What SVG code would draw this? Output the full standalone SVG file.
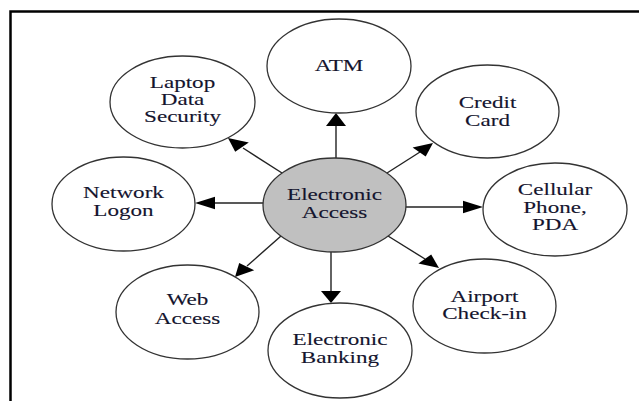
<svg xmlns="http://www.w3.org/2000/svg" width="639" height="401" viewBox="0 0 639 401">
<style>
.node ellipse{fill:#ffffff;stroke:#333333;stroke-width:1.3}
#n-center ellipse{fill:#c0c0c0}
.node text{font-family:"Liberation Serif","Times New Roman",Times,serif;font-size:16.5px;fill:#14142e;stroke:#14142e;stroke-width:0.12;text-anchor:middle}
.conn line{stroke:#222222;stroke-width:1.4}
.conn polygon{fill:#000000}
.frame{stroke:#000000;stroke-width:2.5;fill:none}
</style>
<rect width="639" height="401" fill="#ffffff"/>
<polyline class="frame" points="10.5,401 10.5,11.5 639,11.5"/>

<g id="connectors" class="conn">
  <line x1="336" y1="158" x2="336" y2="124"/>
  <polygon points="336,113 346,126 326,126"/>
  <line x1="331" y1="252" x2="331" y2="293"/>
  <polygon points="331,303 321,291 341,291"/>
  <line x1="263" y1="203" x2="213" y2="203"/>
  <polygon points="195,203 215,196.8 215,209.2"/>
  <line x1="406" y1="207" x2="465" y2="207"/>
  <polygon points="483,207 463,200.8 463,213.2"/>
  <line x1="282" y1="173" x2="243" y2="148"/>
  <polygon points="228,138 248.8,142.4 235.2,151.7"/>
  <line x1="387" y1="173" x2="420" y2="152"/>
  <polygon points="433,143 425.7,156.6 412.6,147.6"/>
  <line x1="388" y1="236" x2="425" y2="259"/>
  <polygon points="439,268 418.4,263.6 431.2,254.5"/>
  <line x1="281" y1="236" x2="247" y2="266"/>
  <polygon points="235,277 254.2,270.3 239.2,262.9"/>
</g>

<g id="n-center" class="node">
  <ellipse cx="334.5" cy="205" rx="71.5" ry="47"/>
  <text transform="translate(334.5,0) scale(1.4,1)"><tspan x="0" y="200.5">Electronic</tspan><tspan x="0" y="218.5">Access</tspan></text>
</g>
<g id="n-atm" class="node">
  <ellipse cx="339" cy="66" rx="72" ry="47"/>
  <text transform="translate(339,0) scale(1.4,1)"><tspan x="0" y="71.5">ATM</tspan></text>
</g>
<g id="n-laptop" class="node">
  <ellipse cx="182.5" cy="102" rx="72.5" ry="46"/>
  <text transform="translate(182.5,0) scale(1.4,1)"><tspan x="0" y="88">Laptop</tspan><tspan x="0" y="105">Data</tspan><tspan x="0" y="122">Security</tspan></text>
</g>
<g id="n-credit" class="node">
  <ellipse cx="487.5" cy="111.5" rx="71.5" ry="46.5"/>
  <text transform="translate(487.5,0) scale(1.4,1)"><tspan x="0" y="108.5">Credit</tspan><tspan x="0" y="126.5">Card</tspan></text>
</g>
<g id="n-network" class="node">
  <ellipse cx="123.5" cy="204" rx="71.5" ry="47"/>
  <text transform="translate(123.5,0) scale(1.4,1)"><tspan x="0" y="198.5">Network</tspan><tspan x="0" y="216.5">Logon</tspan></text>
</g>
<g id="n-cellular" class="node">
  <ellipse cx="555" cy="209.5" rx="72" ry="46.5"/>
  <text transform="translate(555,0) scale(1.4,1)"><tspan x="0" y="195.5">Cellular</tspan><tspan x="0" y="213">Phone,</tspan><tspan x="0" y="230.5">PDA</tspan></text>
</g>
<g id="n-web" class="node">
  <ellipse cx="187.5" cy="312" rx="71.5" ry="47"/>
  <text transform="translate(187.5,0) scale(1.4,1)"><tspan x="0" y="305.5">Web</tspan><tspan x="0" y="324">Access</tspan></text>
</g>
<g id="n-banking" class="node">
  <ellipse cx="340" cy="350.5" rx="72" ry="47.5"/>
  <text transform="translate(340,0) scale(1.4,1)"><tspan x="0" y="345.5">Electronic</tspan><tspan x="0" y="363">Banking</tspan></text>
</g>
<g id="n-airport" class="node">
  <ellipse cx="484.5" cy="306" rx="71.5" ry="47"/>
  <text transform="translate(484.5,0) scale(1.4,1)"><tspan x="0" y="302">Airport</tspan><tspan x="0" y="319.5">Check-in</tspan></text>
</g>
</svg>
